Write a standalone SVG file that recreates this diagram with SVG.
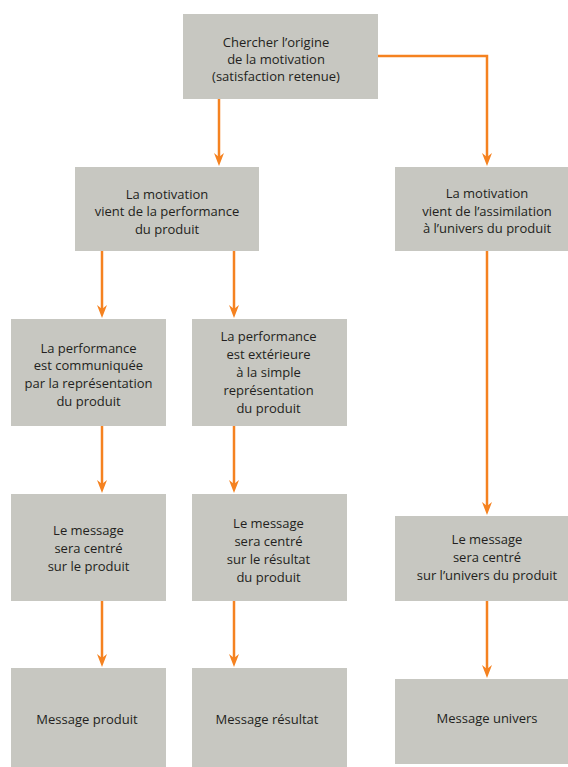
<svg xmlns="http://www.w3.org/2000/svg" width="568" height="767" viewBox="0 0 568 767">
<defs>
<marker id="ah" markerUnits="userSpaceOnUse" viewBox="0 0 13 10" refX="4" refY="5" markerWidth="13" markerHeight="10" orient="auto">
<path d="M0,0 L13,5 L0,10 L4,5 Z" fill="#F58220"/>
</marker>
<style>
.box{fill:#C7C7C1;}
text{font-family:"Open Sans","Noto Sans","Liberation Sans",sans-serif;font-size:13px;fill:#231F20;text-anchor:middle;}
.c{fill:none;stroke:#F58220;stroke-width:2.5;marker-end:url(#ah);}
</style>
</defs>
<rect width="568" height="767" fill="#FFFFFF"/>
<g id="connectors">
<path class="c" d="M219,99 V157"/>
<path class="c" d="M378,56 H487 V157"/>
<path class="c" d="M102,251 V309"/>
<path class="c" d="M234,251 V309"/>
<path class="c" d="M487,251 V506"/>
<path class="c" d="M102,426 V484"/>
<path class="c" d="M234,426 V484"/>
<path class="c" d="M102,601 V658"/>
<path class="c" d="M234,601 V658"/>
<path class="c" d="M487,601 V669"/>
</g>
<g id="n-origine">
<rect class="box" x="183" y="14" width="195" height="85"/>
<text x="276" y="47">Chercher l’origine</text>
<text x="276" y="64">de la motivation</text>
<text x="276" y="81">(satisfaction retenue)</text>
</g>
<g id="n-performance">
<rect class="box" x="75" y="167" width="184" height="84"/>
<text x="167" y="198.5">La motivation</text>
<text x="167" y="216">vient de la performance</text>
<text x="167" y="233.5">du produit</text>
</g>
<g id="n-assimilation">
<rect class="box" x="395" y="167" width="184" height="84"/>
<text x="487" y="198">La motivation</text>
<text x="487" y="215.5">vient de l’assimilation</text>
<text x="487" y="233">à l’univers du produit</text>
</g>
<g id="n-communiquee">
<rect class="box" x="11" y="319" width="155" height="107"/>
<text x="88.5" y="352.5">La performance</text>
<text x="88.5" y="370">est communiquée</text>
<text x="88.5" y="388">par la représentation</text>
<text x="88.5" y="405.5">du produit</text>
</g>
<g id="n-exterieure">
<rect class="box" x="192" y="319" width="155" height="107"/>
<text x="268.5" y="340.5">La performance</text>
<text x="268.5" y="358.5">est extérieure</text>
<text x="268.5" y="376.5">à la simple</text>
<text x="268.5" y="394.5">représentation</text>
<text x="268.5" y="412.5">du produit</text>
</g>
<g id="n-centre-produit">
<rect class="box" x="11" y="494" width="155" height="107"/>
<text x="88.5" y="534.5">Le message</text>
<text x="88.5" y="552.5">sera centré</text>
<text x="88.5" y="570.5">sur le produit</text>
</g>
<g id="n-centre-resultat">
<rect class="box" x="192" y="494" width="155" height="107"/>
<text x="268.5" y="527.5">Le message</text>
<text x="268.5" y="545.5">sera centré</text>
<text x="268.5" y="563.5">sur le résultat</text>
<text x="268.5" y="581.5">du produit</text>
</g>
<g id="n-centre-univers">
<rect class="box" x="395" y="516" width="184" height="85"/>
<text x="487" y="543.5">Le message</text>
<text x="487" y="561.5">sera centré</text>
<text x="487" y="580">sur l’univers du produit</text>
</g>
<g id="n-msg-produit">
<rect class="box" x="11" y="668" width="155" height="99"/>
<text x="87" y="724">Message produit</text>
</g>
<g id="n-msg-resultat">
<rect class="box" x="192" y="668" width="155" height="99"/>
<text x="267" y="724">Message résultat</text>
</g>
<g id="n-msg-univers">
<rect class="box" x="395" y="679" width="184" height="85"/>
<text x="487" y="722.5">Message univers</text>
</g>
</svg>
